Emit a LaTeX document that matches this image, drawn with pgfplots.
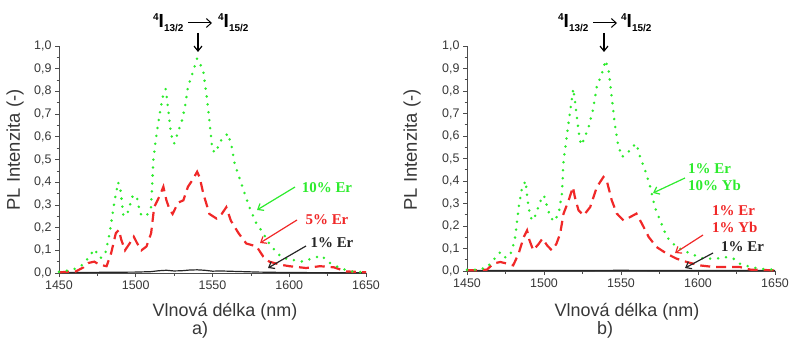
\documentclass[border=0pt]{standalone}
\usepackage{pgfplots}
\pgfplotsset{compat=1.18}
\usepackage{fontspec}
\setmainfont{Liberation Sans}
\newfontfamily\tnr{Liberation Serif}
\usetikzlibrary{arrows.meta}
\definecolor{grn}{RGB}{45,235,45}
\definecolor{rd}{RGB}{240,40,40}
\definecolor{txt}{RGB}{55,55,55}
\pgfplotsset{panel/.style={
  scale only axis, axis lines=left, axis line style={-, line width=0.8pt, black!70},
  xmin=1450, xmax=1650, ymin=0, ymax=1,
  xtick={1450,1500,1550,1600,1650}, minor xtick={1475,1525,1575,1625},
  ytick={0,0.1,0.2,0.3,0.4,0.5,0.6,0.7,0.8,0.9,1.0},
  minor ytick={0.05,0.15,0.25,0.35,0.45,0.55,0.65,0.75,0.85,0.95},
  tick align=outside, major tick length=4bp, minor tick length=2.5bp,
  every tick/.style={black!70, line width=0.7pt},
  ticklabel style={font=\fontsize{12.5}{14}\selectfont, text=txt},
  /pgf/number format/assume math mode=true,
  yticklabel style={/pgf/number format/.cd, fixed, fixed zerofill, precision=1, use comma},
  xticklabel style={/pgf/number format/1000 sep={}},
  clip=false,
},
gdot/.style={grn, line width=2.8pt, line cap=round, dash pattern=on 0pt off 8pt},
rdash/.style={rd, line width=2.2pt, dash pattern=on 10pt off 6pt},
blk/.style={black!85, line width=1.2pt},
}
\tikzset{ann/.style={line width=1.2pt, -{Straight Barb[length=5pt,width=8pt]}},
  lab/.style={font=\tnr\bfseries\fontsize{15}{17}\selectfont, inner sep=0pt}}
\newcommand{\lvl}[1]{\textbf{\raisebox{7.5pt}{\fontsize{10}{10}\selectfont 4}\fontsize{19}{20}\selectfont I\raisebox{-4pt}{\fontsize{10}{10}\selectfont #1}}}
\begin{document}
\begin{tikzpicture}
\useasboundingbox (0,0) rectangle (789bp,341bp);
% ---------- panel a ----------
\begin{axis}[panel, at={(59bp,68bp)}, anchor=south west, width=307bp, height=227bp]
\addplot[blk] coordinates {(1450,0.002)(1480,0.003)(1500,0.004)(1510,0.006)(1515,0.010)(1520,0.012)(1525,0.009)(1530,0.010)(1535,0.013)(1540,0.014)(1545,0.012)(1550,0.008)(1555,0.009)(1560,0.008)(1570,0.006)(1580,0.004)(1600,0.002)(1650,0.001)};
\addplot[rdash] coordinates {(1450,0.003)(1461,0.007)(1466,0.025)(1469,0.044)(1473,0.05)(1476.5,0.036)(1481,0.03)(1484,0.088)(1487,0.175)(1489,0.19)(1490.6,0.146)(1493,0.10)(1496,0.13)(1498.7,0.16)(1501,0.13)(1503.7,0.10)(1507,0.117)(1510,0.175)(1512,0.29)(1515.6,0.34)(1518,0.38)(1520,0.32)(1522,0.28)(1524,0.26)(1527.6,0.31)(1531,0.32)(1534,0.38)(1537,0.41)(1540,0.446)(1541.7,0.42)(1544,0.35)(1548,0.26)(1552.6,0.24)(1556,0.26)(1559,0.29)(1562,0.23)(1567,0.175)(1572,0.13)(1578.7,0.117)(1583,0.073)(1587,0.05)(1594,0.037)(1600,0.03)(1611,0.022)(1620,0.03)(1629,0.025)(1637,0.007)(1650,0.003)};
\addplot[gdot] coordinates {(1450,0.005)(1455,0.010)(1460,0.018)(1465,0.035)(1469,0.065)(1473,0.105)(1477,0.066)(1480,0.08)(1483,0.175)(1486,0.31)(1488.5,0.40)(1490,0.37)(1492,0.25)(1495,0.27)(1498,0.34)(1500.5,0.34)(1503,0.26)(1507,0.25)(1510,0.29)(1511.5,0.50)(1513.5,0.61)(1515.6,0.70)(1518,0.79)(1519.5,0.81)(1521,0.73)(1523,0.61)(1525,0.57)(1527,0.61)(1530,0.67)(1532,0.73)(1534,0.82)(1537.5,0.89)(1540,0.945)(1542,0.92)(1544,0.886)(1546,0.79)(1548,0.67)(1550,0.54)(1552,0.53)(1555,0.58)(1558,0.60)(1560,0.615)(1562.5,0.556)(1564.5,0.48)(1568,0.41)(1571,0.35)(1574,0.29)(1578.5,0.22)(1583,0.175)(1587,0.13)(1592,0.088)(1596,0.066)(1602,0.058)(1609,0.05)(1615.5,0.066)(1621,0.076)(1626.5,0.044)(1633,0.022)(1640,0.007)(1650,0.003)};
\end{axis}
% ---------- panel b ----------
\begin{axis}[panel, at={(467bp,70bp)}, anchor=south west, width=308bp, height=225bp]
\addplot[blk] coordinates {(1450,0.002)(1500,0.002)(1550,0.003)(1600,0.002)(1650,0.002)};
\addplot[rdash] coordinates {(1450,0.003)(1456,0.003)(1463,0.006)(1467,0.033)(1471.6,0.04)(1476,0.033)(1480,0.025)(1483.5,0.077)(1486.8,0.15)(1489,0.18)(1490.6,0.136)(1493,0.092)(1496.5,0.12)(1499,0.144)(1502,0.114)(1505,0.092)(1508,0.12)(1510.5,0.166)(1512.7,0.255)(1516,0.314)(1518.8,0.373)(1520,0.33)(1522.4,0.27)(1525.7,0.247)(1530,0.284)(1534.3,0.373)(1538.6,0.418)(1540.8,0.40)(1544,0.314)(1547.3,0.255)(1551.6,0.225)(1556,0.24)(1560,0.255)(1563.6,0.21)(1568,0.151)(1573,0.107)(1579.7,0.077)(1586,0.055)(1592.7,0.04)(1601,0.025)(1610,0.018)(1618.6,0.018)(1627,0.018)(1634,0.006)(1650,0.003)};
\addplot[gdot] coordinates {(1450,0.005)(1456.5,0.006)(1463,0.015)(1466,0.04)(1471.6,0.084)(1475,0.06)(1478,0.07)(1481,0.136)(1483.5,0.28)(1485.7,0.37)(1488,0.40)(1490,0.28)(1492,0.225)(1494,0.24)(1497.6,0.31)(1500,0.336)(1501.5,0.30)(1504,0.24)(1506.6,0.22)(1509.5,0.255)(1511.6,0.34)(1512.7,0.49)(1515,0.61)(1517,0.71)(1519,0.81)(1520,0.76)(1522.4,0.625)(1524,0.56)(1525.7,0.58)(1529,0.64)(1531.7,0.714)(1534.3,0.82)(1537.6,0.877)(1540,0.936)(1542,0.89)(1544,0.77)(1546,0.65)(1548,0.566)(1550.5,0.507)(1553.8,0.52)(1557,0.55)(1560,0.566)(1562.4,0.507)(1565.7,0.447)(1569,0.373)(1572,0.284)(1575.4,0.225)(1579.7,0.151)(1586,0.107)(1595,0.077)(1603.5,0.055)(1612,0.055)(1617.6,0.062)(1623,0.055)(1627,0.033)(1634,0.018)(1640,0.01)(1650,0.006)};
\end{axis}
% ---------- axis titles ----------
\foreach \cx in {225, 627}{
  \node[anchor=base, inner sep=0pt, text=txt, font=\fontsize{18}{20}\selectfont] at (\cx bp,25bp) {Vlnová délka (nm)};
}
\node[anchor=base, inner sep=0pt, text=txt, font=\fontsize{18}{20}\selectfont] at (200bp,7bp) {a)};
\node[anchor=base, inner sep=0pt, text=txt, font=\fontsize{18}{20}\selectfont] at (605bp,7bp) {b)};
\node[rotate=90, inner sep=0pt, text=txt, font=\fontsize{18.5}{20}\selectfont] at (15bp,191bp) {PL Intenzita (-)};
\node[rotate=90, inner sep=0pt, text=txt, font=\fontsize{18.5}{20}\selectfont] at (412bp,191bp) {PL Intenzita (-)};
% ---------- transition labels ----------
\node[anchor=base west, inner sep=0pt] at (153bp,313bp) {\lvl{13/2}};
\node[anchor=base west, inner sep=0pt] at (218bp,313bp) {\lvl{15/2}};
\draw[line width=1pt, -{Straight Barb[length=5pt,width=9pt]}] (188bp,318bp) -- (212bp,318bp);
\draw[line width=1.2pt, -{Straight Barb[length=5pt,width=8pt]}] (198bp,308bp) -- (198bp,289bp);
\node[anchor=base west, inner sep=0pt] at (558bp,313bp) {\lvl{13/2}};
\node[anchor=base west, inner sep=0pt] at (621bp,313bp) {\lvl{15/2}};
\draw[line width=1pt, -{Straight Barb[length=5pt,width=9pt]}] (593bp,318bp) -- (617bp,318bp);
\draw[line width=1.2pt, -{Straight Barb[length=5pt,width=8pt]}] (604bp,308bp) -- (604bp,289bp);
% ---------- panel a annotations ----------
\node[lab, text=grn] at (327bp,153bp) {10\% Er};
\draw[ann, grn] (295bp,154bp) -- (257bp,131bp);
\node[lab, text=rd] at (327bp,121bp) {5\% Er};
\draw[ann, rd] (297bp,121bp) -- (260bp,98bp);
\node[lab, text=black!85] at (332bp,98bp) {1\% Er};
\draw[ann, black!85] (306bp,95bp) -- (268bp,73bp);
% ---------- panel b annotations ----------
\node[lab, text=grn, anchor=west] at (688bp,172bp) {1\% Er};
\node[lab, text=grn, anchor=west] at (688bp,156bp) {10\% Yb};
\draw[ann, grn] (685bp,163bp) -- (653bp,148bp);
\node[lab, text=rd, anchor=west] at (712bp,130bp) {1\% Er};
\node[lab, text=rd, anchor=west] at (712bp,114bp) {1\% Yb};
\draw[ann, rd] (703bp,106bp) -- (675bp,88bp);
\node[lab, text=black!85, anchor=west] at (721bp,94bp) {1\% Er};
\draw[ann, black!85] (713bp,88bp) -- (685bp,73bp);
\end{tikzpicture}
\end{document}
